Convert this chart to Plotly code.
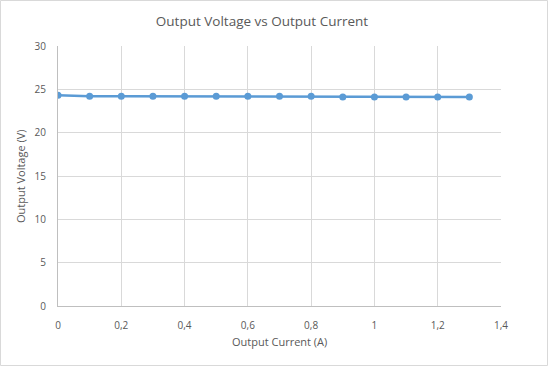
import plotly.graph_objects as go

current = [0, 0.1, 0.2, 0.3, 0.4, 0.5, 0.6, 0.7, 0.8, 0.9, 1.0, 1.1, 1.2, 1.3]
voltage = [24.33, 24.19, 24.19, 24.19, 24.19, 24.19, 24.19, 24.19, 24.19, 24.11, 24.11, 24.11, 24.11, 24.11]
x_ticks = [0, 0.2, 0.4, 0.6, 0.8, 1.0, 1.2, 1.4]
x_labels = ["0", "0,2", "0,4", "0,6", "0,8", "1", "1,2", "1,4"]
y_ticks = [0, 5, 10, 15, 20, 25, 30]

W, H = 548, 366
L, R, T, B = 58, 47, 46, 60
pw, ph = W - L - R, H - T - B

fig = go.Figure(go.Scatter(
    x=current, y=voltage, mode="lines+markers",
    line=dict(color="#5b9bd5", width=2.5),
    marker=dict(color="#5b9bd5", size=7),
))

font = "Open Sans, Liberation Sans, sans-serif"
fig.update_layout(
    width=W, height=H,
    margin=dict(l=L, r=R, t=T, b=B, autoexpand=False),
    paper_bgcolor="white", plot_bgcolor="white",
    showlegend=False,
    title=dict(text="Output Voltage vs Output Current", x=262 / W, xanchor="center",
               y=1 - 21 / H, yanchor="middle",
               font=dict(family=font, size=13.5, color="#595959")),
    font=dict(family=font, size=10, color="#595959"),
    xaxis=dict(range=[0, 1.4], tickvals=x_ticks, ticktext=x_labels,
               showgrid=True, gridcolor="#d9d9d9", gridwidth=1,
               showline=True, linecolor="#bfbfbf", linewidth=1,
               zeroline=False, ticks="outside", ticklen=10, tickcolor="rgba(0,0,0,0)",
               automargin=False),
    yaxis=dict(range=[0, 30], tickvals=y_ticks,
               showgrid=True, gridcolor="#d9d9d9", gridwidth=1,
               showline=True, linecolor="#bfbfbf", linewidth=1,
               zeroline=False, ticks="outside", ticklen=9, tickcolor="rgba(0,0,0,0)",
               automargin=False),
)
fig.add_annotation(text="Output Current (A)", xref="paper", yref="paper",
                   x=(279 - L) / pw, y=-(341 - T - ph) / ph, showarrow=False,
                   xanchor="center", yanchor="middle",
                   font=dict(family=font, size=11, color="#595959"))
fig.add_annotation(text="Output Voltage (V)", xref="paper", yref="paper",
                   x=(20 - L) / pw, y=(T + ph - 176) / ph, showarrow=False,
                   textangle=-90, xanchor="center", yanchor="middle",
                   font=dict(family=font, size=11, color="#595959"))
fig.add_shape(type="rect", xref="paper", yref="paper",
              x0=(0.5 - L) / pw, x1=(W - 0.5 - L) / pw,
              y0=-(B - 0.5) / ph, y1=1 + (T - 0.5) / ph,
              line=dict(color="#d9d9d9", width=1), layer="below")
fig.write_html("out.html", config={"displayModeBar": False},
               post_script="document.body.style.margin='0';document.body.style.overflow='hidden';")
